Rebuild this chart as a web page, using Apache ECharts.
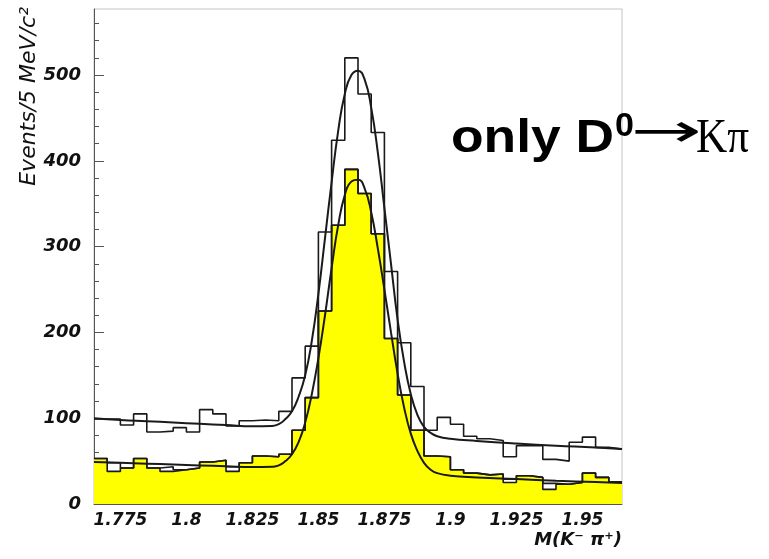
<!DOCTYPE html>
<html>
<head>
<meta charset="utf-8">
<script src="https://cdn.jsdelivr.net/npm/echarts@6/dist/echarts.min.js"></script>
<style>
  html, body { margin: 0; padding: 0; background: #fff; }
  #chart { width: 769px; height: 559px; }
</style>
</head>
<body>
<div id="chart"></div>
<script>
// Lower edges of the 5 MeV/c^2 mass bins (GeV/c^2)
const binLowEdges = [1.765, 1.770, 1.775, 1.780, 1.785, 1.790, 1.795, 1.800, 1.805, 1.810,
                     1.815, 1.820, 1.825, 1.830, 1.835, 1.840, 1.845, 1.850, 1.855, 1.860,
                     1.865, 1.870, 1.875, 1.880, 1.885, 1.890, 1.895, 1.900, 1.905, 1.910,
                     1.915, 1.920, 1.925, 1.930, 1.935, 1.940, 1.945, 1.950, 1.955, 1.960];
const lastBinHighEdge = 1.965;

// All candidates (open histogram)
const allCandidates = [99, 99, 92, 105, 84, 85, 89, 84, 110, 105,
                       91, 97, 98, 97, 108, 147, 184, 317, 424, 520,
                       478, 433, 271, 188, 137, 86, 101, 93, 79, 76,
                       74, 55, 68, 68, 52, 50, 72, 78, 66, 64];

// Selected D0 -> K pi candidates (yellow histogram)
const selectedCandidates = [53, 38, 42, 53, 42, 38, 40, 42, 49, 51,
                            38, 48, 56, 55, 58, 86, 124, 225, 325, 390,
                            362, 315, 193, 127, 86, 56, 55, 40, 36, 34,
                            35, 25, 33, 31, 17, 23, 25, 36, 31, 26];

// Second open histogram at the low level
const lowerOutline = [53, 48, 42, 53, 42, 43.5, 40, 42, 49, 51,
                      43.5, 48, 56, 55, 58, 86, 124, 225, 325, 390,
                      362, 315, 193, 127, 86, 56, 55, 40, 36, 34,
                      35, 29, 33, 31, 24, 23, 25, 36, 31, 26];

// Fit curves: mass points and fitted yields
const fitMass = [1.765, 1.775, 1.785, 1.795, 1.805, 1.815, 1.825, 1.8325, 1.835, 1.8375,
                 1.84, 1.8425, 1.845, 1.8475, 1.85, 1.8525, 1.855, 1.8575, 1.86, 1.8625,
                 1.865, 1.8675, 1.87, 1.8725, 1.875, 1.8775, 1.88, 1.8825, 1.885, 1.8875,
                 1.89, 1.8925, 1.895, 1.9, 1.91, 1.925, 1.94, 1.955, 1.965];
const fitAll = [100, 98, 96.5, 95, 93.5, 92, 90.5, 91, 93, 99,
                108, 125, 150, 190, 245, 310, 375, 435, 478, 500,
                505, 495, 462, 410, 345, 280, 215, 165, 128, 104,
                90, 83, 79, 76, 73.5, 70.5, 68, 66, 64];
const fitSelected = [49, 48, 47, 46, 45, 44, 43, 43.5, 45, 50,
                     58, 72, 95, 128, 170, 220, 275, 325, 360, 376,
                     378, 368, 340, 298, 250, 200, 152, 112, 82, 62,
                     48, 40, 36, 33, 31, 29, 27, 25.5, 24.5];

// Axis tick positions and labels
const massLabelTicks = [1.775, 1.8, 1.825, 1.85, 1.875, 1.9, 1.925, 1.95];
const massMinorTicks = [1.765, 1.770, 1.775, 1.780, 1.785, 1.790, 1.795, 1.800, 1.805, 1.810,
                        1.815, 1.820, 1.825, 1.830, 1.835, 1.840, 1.845, 1.850, 1.855, 1.860,
                        1.865, 1.870, 1.875, 1.880, 1.885, 1.890, 1.895, 1.900, 1.905, 1.910,
                        1.915, 1.920, 1.925, 1.930, 1.935, 1.940, 1.945, 1.950, 1.955, 1.960];
const eventLabelTicks = [0, 100, 200, 300, 400, 500];
const eventMinorTicks = [20, 40, 60, 80, 120, 140, 160, 180, 220, 240, 260, 280,
                         320, 340, 360, 380, 420, 440, 460, 480, 520, 540, 560];

const xMin = 1.765, xMax = 1.965, yMin = 0, yMax = 577;

// Turn bin contents into a stepped outline
function stepPoints(values) {
  const pts = binLowEdges.map((e, i) => [e, values[i]]);
  pts.push([lastBinHighEdge, values[values.length - 1]]);
  return pts;
}
const pairs = (xs, ys) => xs.map((x, i) => [x, ys[i]]);

const ink = '#1a1a1a';
const tickFont = { fontFamily: 'DejaVu Sans', fontWeight: 'bold', fontStyle: 'italic', fontSize: 17, color: '#111' };

const chart = echarts.init(document.getElementById('chart'), null, { renderer: 'canvas' });
chart.setOption({
  animation: false,
  backgroundColor: '#fff',
  grid: { left: 94, right: 147, top: 9, bottom: 55, show: true, borderColor: '#c4c4c4', borderWidth: 1, backgroundColor: 'transparent' },
  xAxis: [
    {
      type: 'value', min: xMin, max: xMax, position: 'bottom',
      axisLine: { show: true, onZero: false, lineStyle: { color: '#555', width: 1 } },
      axisTick: { show: true, inside: true, length: 8, customValues: massLabelTicks, lineStyle: { color: '#555' } },
      axisLabel: { show: true, margin: 8, customValues: massLabelTicks, ...tickFont,
                   formatter: v => String(+(+v).toFixed(3)) },
      splitLine: { show: false }
    },
    {
      type: 'value', min: xMin, max: xMax, position: 'bottom',
      axisLine: { show: false },
      axisTick: { show: true, inside: true, length: 4, customValues: massMinorTicks, lineStyle: { color: '#555' } },
      axisLabel: { show: false },
      splitLine: { show: false }
    }
  ],
  yAxis: [
    {
      type: 'value', min: yMin, max: yMax, position: 'left',
      axisLine: { show: true, onZero: false, lineStyle: { color: '#555', width: 1 } },
      axisTick: { show: true, inside: true, length: 10, customValues: eventLabelTicks, lineStyle: { color: '#555' } },
      axisLabel: { show: true, margin: 13, customValues: eventLabelTicks, ...tickFont, fontSize: 18 },
      splitLine: { show: false }
    },
    {
      type: 'value', min: yMin, max: yMax, position: 'left',
      axisLine: { show: false },
      axisTick: { show: true, inside: true, length: 5, customValues: eventMinorTicks, lineStyle: { color: '#555' } },
      axisLabel: { show: false },
      splitLine: { show: false }
    }
  ],
  series: [
    {
      name: 'selected', type: 'line', step: 'end', showSymbol: false,
      data: stepPoints(selectedCandidates),
      lineStyle: { color: ink, width: 1.6 },
      areaStyle: { color: '#ffff00', opacity: 1 },
      z: 2
    },
    {
      name: 'lower outline', type: 'line', step: 'end', showSymbol: false,
      data: stepPoints(lowerOutline),
      lineStyle: { color: ink, width: 1.6 },
      z: 3
    },
    {
      name: 'all', type: 'line', step: 'end', showSymbol: false,
      data: stepPoints(allCandidates),
      lineStyle: { color: ink, width: 1.6 },
      z: 3
    },
    {
      name: 'fit all', type: 'line', smooth: true, showSymbol: false,
      data: pairs(fitMass, fitAll),
      lineStyle: { color: ink, width: 2 },
      z: 4
    },
    {
      name: 'fit selected', type: 'line', smooth: true, showSymbol: false,
      data: pairs(fitMass, fitSelected),
      lineStyle: { color: ink, width: 2 },
      z: 4
    }
  ],
  graphic: [
    {
      type: 'text', x: 29, y: 7, rotation: Math.PI / 2,
      style: { text: 'Events/5 MeV/c²', font: 'italic 22px "DejaVu Sans"', fill: '#111', align: 'right', verticalAlign: 'middle' }
    },
    {
      type: 'text', x: 622, y: 540,
      style: { text: 'M(K⁻ π⁺)', font: 'italic bold 18px "DejaVu Sans"', fill: '#111', align: 'right', verticalAlign: 'middle' }
    },
    {
      type: 'text', x: 451, y: 139, scaleX: 1.16,
      style: { text: 'only D', font: 'bold 46px "Liberation Sans"', fill: '#000', align: 'left', verticalAlign: 'middle' }
    },
    {
      type: 'text', x: 615, y: 127,
      style: { text: '0', font: 'bold 34px "Liberation Sans"', fill: '#000', align: 'left', verticalAlign: 'middle' }
    },
    {
      type: 'text', x: 631, y: 134, scaleX: 1.85,
      style: { text: '→', font: '46px "DejaVu Sans"', fill: '#000', align: 'left', verticalAlign: 'middle' }
    },
    {
      type: 'text', x: 696, y: 139, scaleX: 0.9,
      style: { text: 'Kπ', font: '48px "Liberation Serif"', fill: '#000', align: 'left', verticalAlign: 'middle' }
    }
  ]
});
</script>
</body>
</html>
